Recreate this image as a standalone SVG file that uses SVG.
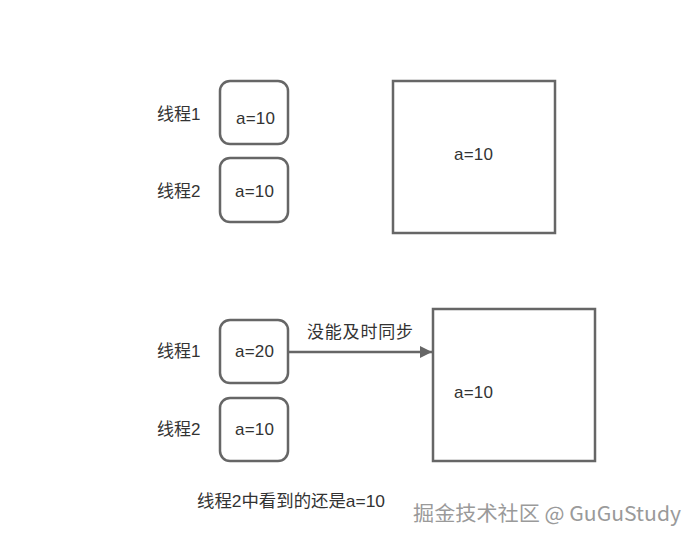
<svg xmlns="http://www.w3.org/2000/svg" width="699" height="542" viewBox="0 0 699 542">
<style>
.box{fill:#fff;stroke:#666;stroke-width:2.5}
.t{font-family:"Liberation Sans","Noto Sans CJK SC",sans-serif;font-size:17px;fill:#333}
.lb{font-family:"Liberation Sans","Noto Sans CJK SC",sans-serif;font-size:17px;fill:#333}
.wm{font-family:"Noto Sans CJK SC","Liberation Sans",sans-serif;font-size:20px;fill:#9a9a9a}
</style>
<defs>
<marker id="arr" viewBox="0 0 10 10" refX="10" refY="5" markerWidth="16" markerHeight="12" markerUnits="userSpaceOnUse" orient="auto">
<path d="M0,0 L10,5 L0,10 Z" fill="#666"/>
</marker>
</defs>
<rect width="699" height="542" fill="#fff"/>
<g id="label-t1-top"><text class="lb" x="157" y="120">线程1</text></g>
<g id="label-t2-top"><text class="lb" x="157" y="197">线程2</text></g>
<g id="t1-top"><rect class="box" x="220" y="81" width="68" height="63" rx="10"/><text class="t" x="236" y="124" textLength="39" lengthAdjust="spacing">a=10</text></g>
<g id="t2-top"><rect class="box" x="220" y="158" width="68" height="64" rx="10"/><text class="t" x="235" y="197" textLength="39" lengthAdjust="spacing">a=10</text></g>
<g id="mem-top"><rect class="box" x="393" y="81" width="162" height="152"/><text class="t" x="454" y="160" textLength="39" lengthAdjust="spacing">a=10</text></g>
<g id="label-t1-bot"><text class="lb" x="157" y="357">线程1</text></g>
<g id="label-t2-bot"><text class="lb" x="157" y="435">线程2</text></g>
<g id="t1-bot"><rect class="box" x="220" y="320" width="68" height="63" rx="10"/><text class="t" x="235" y="357" textLength="39" lengthAdjust="spacing">a=20</text></g>
<g id="t2-bot"><rect class="box" x="220" y="398" width="68" height="63" rx="10"/><text class="t" x="235" y="435" textLength="39" lengthAdjust="spacing">a=10</text></g>
<g id="mem-bot"><rect class="box" x="433" y="309" width="162" height="152"/><text class="t" x="454" y="398" textLength="39" lengthAdjust="spacing">a=10</text></g>
<g id="connectors">
<line x1="288" y1="352" x2="432" y2="352" stroke="#666" stroke-width="2.5" marker-end="url(#arr)"/>
<text class="lb" x="307" y="338" textLength="106" lengthAdjust="spacing">没能及时同步</text>
</g>
<g id="caption"><text class="lb" x="197" y="507" textLength="188" lengthAdjust="spacingAndGlyphs">线程2中看到的还是a=10</text></g>
<g id="watermark">
<text class="wm" x="414" y="522" style="fill:#fff" textLength="268" lengthAdjust="spacingAndGlyphs">掘金技术社区 @ GuGuStudy</text>
<text class="wm" x="413" y="521" textLength="268" lengthAdjust="spacingAndGlyphs">掘金技术社区 @ GuGuStudy</text>
</g>
</svg>
